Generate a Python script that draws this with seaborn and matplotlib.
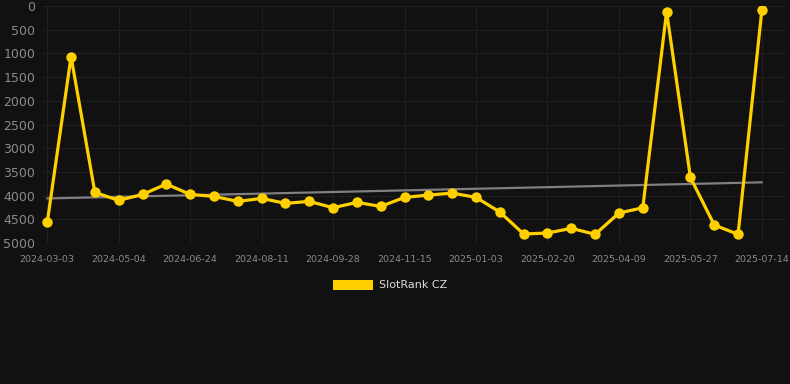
import matplotlib
matplotlib.use("Agg")
import matplotlib.pyplot as plt
from matplotlib.patches import Patch
import seaborn as sns
import numpy as np
import pandas as pd

# даты точек (шаг ~16 дней, подписана каждая третья)
dates = ['2024-03-03', '2024-03-20', '2024-04-06', '2024-05-04', '2024-05-21', '2024-06-07',
         '2024-06-24', '2024-07-10', '2024-07-26', '2024-08-11', '2024-08-27', '2024-09-12',
         '2024-09-28', '2024-10-14', '2024-10-30', '2024-11-15', '2024-12-01', '2024-12-18',
         '2025-01-03', '2025-01-19', '2025-02-04', '2025-02-20', '2025-03-08', '2025-03-24',
         '2025-04-09', '2025-04-25', '2025-05-11', '2025-05-27', '2025-06-12', '2025-06-28',
         '2025-07-14']
ranks = [4565, 1067, 3933, 4101, 3975, 3757, 3975, 4017, 4122, 4059, 4164, 4122,
         4256, 4143, 4228, 4038, 3989, 3947, 4038, 4347, 4811, 4789, 4691, 4817,
         4368, 4256, 119, 3617, 4621, 4817, 77]
trend_ends = [4060, 3720]
series_name = 'SlotRank CZ'

BG = '#111111'
YELLOW = '#FFD000'
GRID = '#1f1f1f'
TICK = '#8a8a8a'

sns.set_theme(style='dark')
plt.rcParams['font.family'] = ['DejaVu Sans']

df = pd.DataFrame({'idx': np.arange(len(ranks)), 'rank': ranks, 'date': dates})

fig = plt.figure(figsize=(7.9, 3.84), dpi=100, facecolor=BG)
ax = fig.add_axes([42 / 790, 1 - 243 / 384, 743 / 790, 237 / 384])
ax.set_facecolor(BG)

# линия тренда
ax.plot([0, len(ranks) - 1], trend_ends, color='#808080', lw=1.6, zorder=2)

sns.lineplot(data=df, x='idx', y='rank', ax=ax, color=YELLOW, lw=2.3,
             marker='o', markersize=7.5, markeredgewidth=0, zorder=3)

ax.set_ylim(5000, 0)
ax.set_xlim(-0.22, 30.97)
ax.set_yticks(np.arange(0, 5001, 500))
ax.set_yticklabels([str(v) for v in range(0, 5001, 500)])
ax.set_xticks(df['idx'][::3])
ax.set_xticklabels(df['date'][::3])

ax.grid(True, color=GRID, lw=0.8)
ax.tick_params(axis='y', colors=TICK, labelsize=9, length=0, pad=5)
ax.tick_params(axis='x', colors=TICK, labelsize=6.8, length=6, width=0.8,
               color=GRID, pad=3)
for s in ax.spines.values():
    s.set_visible(False)
ax.set_xlabel('')
ax.set_ylabel('')

handles = [Patch(facecolor=YELLOW, edgecolor='none', label=series_name)]
leg = fig.legend(handles=handles, loc='center', bbox_to_anchor=(0.5 - 5 / 790, 1 - 285 / 384),
                 frameon=False, fontsize=8, handlelength=3.6, handleheight=1.0,
                 handletextpad=0.5)
for t in leg.get_texts():
    t.set_color('#dddddd')

fig.savefig('out.png', dpi=100, facecolor=BG)
